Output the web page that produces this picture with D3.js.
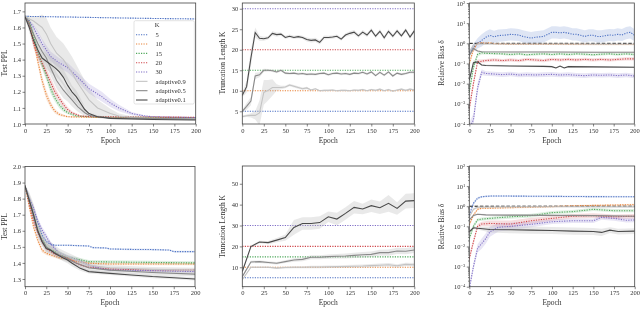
<!DOCTYPE html>
<html>
<head>
<meta charset="utf-8">
<script src="https://cdn.jsdelivr.net/npm/d3@7"></script>
<style>
body { margin: 0; background: #fff; }
svg { will-change: transform; }
text { font-family: "Liberation Serif", "DejaVu Serif", serif; }
</style>
</head>
<body>
<div id="root"></div>
<script>
// ---- data ----
var epochTicks = [0, 25, 50, 75, 100, 125, 150, 175, 200]
var kLevels = [5, 10, 15, 20, 30]
var legendLabels = ["5", "10", "15", "20", "30", "adaptive0.9", "adaptive0.5", "adaptive0.1"]

// top-left: test PPL, [epoch, mean, halfwidth]
var pplTopK5 = [[0,1.669,0.002],[50,1.665,0.003],[100,1.66,0.003],[150,1.656,0.003],[200,1.653,0.003]]
var pplTopK10 = [[0,1.667,0.005],[5,1.63,0.02],[10,1.52,0.03],[15,1.39,0.03],[20,1.27,0.03],[25,1.18,0.03],[30,1.12,0.02],[35,1.08,0.015],[40,1.06,0.01],[50,1.045,0.005],[75,1.042,0.003],[100,1.04,0.003],[200,1.04,0.003]]
var pplTopK15 = [[0,1.667,0.005],[5,1.64,0.02],[10,1.55,0.03],[15,1.45,0.03],[20,1.37,0.03],[25,1.30,0.03],[30,1.22,0.03],[35,1.16,0.02],[40,1.12,0.02],[45,1.09,0.015],[50,1.07,0.01],[60,1.05,0.005],[75,1.045,0.003],[100,1.042,0.003],[200,1.04,0.003]]
var pplTopK20 = [[0,1.667,0.005],[5,1.62,0.02],[10,1.5,0.03],[15,1.43,0.03],[20,1.38,0.03],[25,1.32,0.03],[30,1.26,0.03],[35,1.2,0.03],[40,1.16,0.02],[45,1.12,0.02],[50,1.09,0.015],[55,1.07,0.01],[65,1.05,0.005],[80,1.045,0.003],[200,1.042,0.003]]
var pplTopK30 = [[0,1.667,0.005],[5,1.64,0.01],[10,1.6,0.02],[15,1.55,0.03],[20,1.5,0.03],[25,1.46,0.03],[30,1.42,0.03],[40,1.38,0.03],[50,1.35,0.03],[60,1.3,0.03],[75,1.22,0.03],[90,1.17,0.03],[100,1.13,0.025],[110,1.1,0.02],[125,1.065,0.01],[140,1.05,0.005],[150,1.045,0.003],[175,1.042,0.003],[200,1.04,0.003]]
var pplTopA09 = [[0,1.667,0.01],[10,1.64,0.03],[15,1.62,0.05],[20,1.6,0.08],[25,1.56,0.1],[30,1.5,0.1],[37,1.44,0.1],[45,1.4,0.1],[50,1.36,0.1],[55,1.32,0.1],[60,1.27,0.1],[65,1.23,0.09],[75,1.15,0.07],[85,1.1,0.05],[100,1.065,0.03],[110,1.05,0.015],[125,1.04,0.008],[150,1.035,0.005],[200,1.03,0.004]]
var pplTopA05 = [[0,1.667,0.01],[5,1.62,0.03],[10,1.56,0.04],[15,1.5,0.05],[20,1.45,0.05],[25,1.41,0.05],[30,1.35,0.05],[37,1.27,0.05],[45,1.21,0.05],[50,1.18,0.04],[55,1.15,0.04],[62,1.106,0.03],[70,1.07,0.02],[75,1.054,0.015],[85,1.045,0.008],[100,1.038,0.005],[200,1.03,0.004]]
var pplTopA01 = [[0,1.667,0.01],[5,1.6,0.03],[10,1.52,0.04],[15,1.46,0.05],[20,1.41,0.05],[25,1.39,0.05],[30,1.37,0.05],[35,1.35,0.05],[40,1.325,0.05],[45,1.29,0.05],[50,1.24,0.05],[55,1.2,0.04],[60,1.17,0.04],[65,1.13,0.03],[70,1.09,0.02],[75,1.065,0.015],[85,1.045,0.008],[100,1.035,0.005],[150,1.028,0.004],[200,1.025,0.004]]

// top-middle: truncation length, sampled every 5 epochs
var epochs5 = d3.range(0, 201, 5)
var kTopA01 = [8.9,11,18,24.2,22.8,22.7,22.9,24,23.7,23.8,23,23.3,23,23.2,23,22.5,22.3,22.4,21.8,23,23,23.1,23.3,22.6,23.6,24,24.3,23.4,24.3,23.6,24.8,23.3,24.5,22.9,24.5,23.3,24.6,23.4,24.8,23.1,24.6]
var kTopA01Sd = [0.5,1.5,2,1.2,0.6,0.5,0.4,0.5,0.5,0.4,0.4,0.4,0.4,0.4,0.4,0.5,0.5,0.5,0.5,0.5,0.4,0.4,0.4,0.4,0.4,0.5,0.5,0.5,0.5,0.5,0.5,0.5,0.5,0.5,0.5,0.5,0.5,0.5,0.5,0.5,0.5]
var kTopA05 = [5,6.2,7.5,13.6,13.9,15,15,14.9,14.6,15,14.3,14.2,14.3,14.1,14.2,14,14.1,14,14.2,14.3,13.9,14.2,14.3,14.1,14.2,14,14.3,14.2,14.5,14.1,14.6,13.7,14.5,13.8,14.6,13.6,14.3,14,14.2,14.5,14.5]
var kTopA05Sd = [0.3,0.8,1,0.8,0.6,0.4,0.3,0.3,0.3,0.3,0.3,0.3,0.3,0.3,0.3,0.3,0.3,0.3,0.3,0.3,0.3,0.3,0.3,0.3,0.3,0.3,0.3,0.3,0.3,0.3,0.3,0.3,0.3,0.3,0.3,0.3,0.3,0.3,0.3,0.3,0.3]
var kTopA09 = [3.7,3.9,4,4,4.6,9.6,10.1,10.8,10.8,10.8,10.9,11.4,11.1,10.8,10.5,10.7,10.2,10.5,10,10.1,10.1,10.2,10,10.1,10.1,10,10.2,10.1,10.3,10,10.3,10.1,10.4,10,10.3,9.9,10.2,10.4,10.1,10.4,10.2]
var kTopA09Sd = [0.2,0.3,0.5,1,3,3,2.5,2,0.8,0.4,0.3,0.3,0.3,0.3,0.3,0.3,0.2,0.2,0.2,0.2,0.2,0.2,0.2,0.2,0.2,0.2,0.2,0.2,0.2,0.2,0.2,0.2,0.2,0.2,0.2,0.2,0.2,0.2,0.2,0.2,0.2]

// top-right: relative bias, [epoch, value, band factor]
var biasTopK5 = [[0,0.35,1.3],[5,0.63,1.5],[10,1.0,1.8],[15,1.4,2],[20,2.0,2],[25,2.5,2],[30,2.1,2],[35,2.4,2],[40,2.5,2],[45,2.6,2],[50,2.8,2],[55,2.7,2],[60,2.6,2],[65,2.2,2],[70,2.0,2],[75,1.8,2],[80,2.0,2],[85,2.1,2],[90,2.2,2],[95,2.8,2],[100,3.5,2],[105,3.5,2],[110,3.3,2],[115,3.5,2],[120,3.2,2],[125,2.8,2],[130,2.8,2],[135,2.5,2],[140,2.2,2],[145,2.5,2],[150,2.5,2],[155,2.2,2],[160,2.2,2],[165,2.4,2],[170,2.6,2],[175,2.5,2],[180,2.8,2],[185,2.6,2],[190,3.2,2],[195,3.5,2],[200,2.6,2]]
var biasTopK10 = [[0,0.1,1.5],[5,0.5,1.4],[10,1.0,1.15],[15,1.05,1.1],[20,1.0,1.1],[25,1.05,1.1],[30,0.95,1.1],[50,0.9,1.08],[100,0.9,1.08],[150,0.88,1.08],[200,0.88,1.08]]
var biasTopK15 = [[0,0.004,1.6],[5,0.063,1.5],[10,0.28,1.25],[15,0.34,1.2],[20,0.32,1.15],[30,0.31,1.15],[40,0.3,1.15],[50,0.28,1.15],[60,0.3,1.15],[70,0.27,1.15],[80,0.29,1.15],[90,0.3,1.15],[100,0.28,1.15],[110,0.3,1.15],[120,0.28,1.15],[130,0.3,1.15],[140,0.29,1.15],[150,0.27,1.15],[160,0.29,1.15],[170,0.3,1.15],[180,0.28,1.15],[190,0.3,1.15],[200,0.28,1.15]]
var biasTopK20 = [[0,0.0006,1.8],[5,0.01,1.6],[10,0.12,1.3],[15,0.13,1.2],[20,0.14,1.2],[30,0.15,1.2],[40,0.14,1.2],[50,0.15,1.2],[60,0.14,1.2],[70,0.16,1.2],[80,0.15,1.2],[90,0.14,1.2],[100,0.16,1.2],[110,0.15,1.2],[120,0.16,1.2],[130,0.15,1.2],[140,0.16,1.2],[150,0.15,1.2],[160,0.16,1.2],[170,0.15,1.2],[180,0.16,1.2],[190,0.17,1.2],[200,0.17,1.2]]
var biasTopK30 = [[0,0.00006,2],[5,0.00016,2],[10,0.006,1.8],[15,0.037,1.4],[20,0.032,1.3],[30,0.03,1.3],[40,0.028,1.3],[50,0.03,1.3],[60,0.027,1.3],[70,0.028,1.3],[80,0.027,1.3],[90,0.028,1.3],[100,0.029,1.3],[110,0.027,1.3],[120,0.028,1.3],[130,0.026,1.3],[140,0.025,1.3],[150,0.027,1.3],[160,0.026,1.3],[170,0.027,1.3],[180,0.025,1.3],[190,0.027,1.3],[200,0.024,1.3]]
var biasTopA09 = [[0,0.35,1.2],[5,0.8,1.2],[10,0.95,1.1],[20,0.93,1.05],[50,0.92,1.05],[100,0.92,1.05],[150,0.91,1.05],[200,0.9,1.05]]
var biasTopA05 = [[0,0.25,1.2],[5,0.55,1.2],[10,0.42,1.1],[15,0.38,1.08],[50,0.37,1.08],[100,0.37,1.08],[150,0.36,1.08],[200,0.36,1.08]]
var biasTopA01 = [[0,0.015,1.5],[5,0.11,1.3],[10,0.12,1.2],[15,0.085,1.1],[20,0.08,1.1],[50,0.075,1.1],[90,0.072,1.1],[100,0.07,1.1],[105,0.06,1.1],[110,0.075,1.1],[115,0.06,1.1],[120,0.07,1.1],[150,0.068,1.1],[200,0.065,1.1]]

// bottom-left: test PPL
var pplBotK5 = [[0,1.88,0.003],[5,1.8,0.01],[10,1.73,0.01],[15,1.65,0.01],[20,1.574,0.01],[25,1.533,0.008],[30,1.516,0.006],[35,1.51,0.005],[50,1.51,0.005],[75,1.505,0.005],[80,1.495,0.005],[95,1.493,0.005],[100,1.487,0.005],[125,1.484,0.005],[150,1.483,0.005],[170,1.48,0.005],[175,1.47,0.005],[200,1.47,0.005]]
var pplBotK10 = [[0,1.88,0.003],[5,1.75,0.02],[10,1.626,0.02],[15,1.543,0.02],[20,1.48,0.015],[25,1.46,0.01],[30,1.45,0.01],[40,1.433,0.01],[50,1.425,0.01],[60,1.41,0.008],[75,1.398,0.008],[100,1.393,0.008],[200,1.393,0.008]]
var pplBotK15 = [[0,1.88,0.003],[5,1.78,0.02],[10,1.69,0.02],[15,1.61,0.02],[20,1.553,0.015],[25,1.5,0.015],[30,1.48,0.012],[40,1.46,0.012],[50,1.435,0.012],[60,1.425,0.012],[75,1.408,0.01],[100,1.406,0.01],[150,1.403,0.01],[200,1.4,0.01]]
var pplBotK20 = [[0,1.88,0.003],[5,1.77,0.02],[10,1.66,0.02],[15,1.59,0.02],[20,1.533,0.015],[25,1.49,0.012],[35,1.455,0.01],[50,1.43,0.01],[60,1.4,0.01],[65,1.387,0.01],[75,1.373,0.008],[100,1.362,0.008],[150,1.356,0.008],[200,1.356,0.008]]
var pplBotK30 = [[0,1.88,0.003],[5,1.8,0.02],[10,1.74,0.02],[15,1.66,0.02],[20,1.605,0.02],[25,1.563,0.02],[30,1.52,0.015],[40,1.46,0.012],[50,1.44,0.01],[60,1.42,0.01],[75,1.387,0.008],[90,1.364,0.008],[100,1.356,0.008],[150,1.352,0.008],[200,1.346,0.008]]
var pplBotA09 = [[0,1.88,0.005],[5,1.8,0.04],[10,1.72,0.05],[15,1.63,0.05],[20,1.56,0.04],[25,1.52,0.03],[30,1.5,0.03],[40,1.46,0.03],[50,1.44,0.025],[60,1.42,0.02],[75,1.385,0.02],[100,1.37,0.015],[150,1.36,0.015],[200,1.355,0.015]]
var pplBotA05 = [[0,1.88,0.005],[5,1.79,0.04],[10,1.7,0.05],[15,1.6,0.04],[20,1.54,0.03],[25,1.5,0.03],[30,1.48,0.03],[40,1.45,0.025],[50,1.425,0.02],[60,1.4,0.02],[75,1.37,0.02],[100,1.355,0.015],[150,1.34,0.015],[200,1.33,0.015]]
var pplBotA01 = [[0,1.88,0.005],[5,1.79,0.03],[10,1.7,0.04],[15,1.6,0.04],[20,1.533,0.03],[25,1.49,0.025],[30,1.48,0.02],[35,1.46,0.02],[45,1.43,0.02],[50,1.418,0.02],[55,1.4,0.02],[65,1.366,0.015],[75,1.346,0.012],[100,1.335,0.01],[125,1.325,0.01],[150,1.315,0.01],[175,1.308,0.01],[200,1.3,0.01]]

// bottom-middle: truncation length, sampled every 10 epochs
var epochs10 = d3.range(0, 201, 10)
var kBotA01 = [8,19.9,22.1,21.8,23,24.2,29.1,31,31,31.4,34.2,33.1,35.8,38.7,37.9,39.5,38.5,40.6,38.2,41.7,41.9]
var kBotA01Sd = [1,0.6,0.6,0.8,1,1.5,3.5,3,3,3,2.5,3,3,3,2.5,3,3,4,3,3.5,3.5]
var kBotA05 = [5.5,12.5,12.7,12.3,11.9,12.7,13.5,13.8,14.8,14.8,15.1,15.3,15.4,15.7,16,16.2,17,17,17.8,17.7,18.3]
var kBotA05Sd = [0.5,0.6,0.6,0.6,0.6,0.7,0.8,0.9,1,1,1,1.1,1.2,1.2,1.3,1.3,1.4,1.5,1.5,1.5,1.5]
var kBotA09 = [4,10,10,10,9.6,9.9,10,10,10.1,10.1,10.2,10.3,10.4,10.5,10.6,10.8,11,11.2,10.7,11.4,11.2]
var kBotA09Sd = [0.3,0.4,0.4,0.4,0.4,0.5,0.5,0.5,0.6,0.6,0.6,0.6,0.7,0.7,0.7,0.8,0.8,0.8,0.8,0.8,0.8]

// bottom-right: relative bias
var biasBotK5 = [[0,0.36,1.2],[5,1.4,1.2],[10,2.5,1.15],[15,2.95,1.1],[20,3.1,1.1],[25,3.2,1.1],[50,3.2,1.1],[100,3.1,1.1],[150,3.0,1.1],[200,2.95,1.1]]
var biasBotK10 = [[0,0.12,1.3],[5,0.36,1.2],[10,0.7,1.15],[15,0.8,1.1],[25,0.8,1.1],[50,0.85,1.1],[75,0.9,1.1],[100,0.95,1.1],[125,1.05,1.1],[150,1.1,1.1],[175,1.15,1.1],[200,1.2,1.1]]
var biasBotK15 = [[0,0.025,1.4],[5,0.1,1.3],[10,0.21,1.2],[15,0.23,1.2],[25,0.25,1.2],[50,0.3,1.25],[75,0.34,1.25],[100,0.48,1.2],[125,0.54,1.2],[150,0.7,1.2],[175,0.6,1.2],[200,0.6,1.2]]
var biasBotK20 = [[0,0.0025,1.5],[5,0.017,1.4],[10,0.1,1.3],[15,0.13,1.3],[25,0.14,1.4],[50,0.13,1.5],[75,0.19,1.4],[100,0.25,1.3],[125,0.32,1.3],[150,0.34,1.3],[175,0.3,1.3],[200,0.32,1.3]]
var biasBotK30 = [[0,0.00008,1.5],[5,0.001,1.5],[10,0.008,1.6],[15,0.014,1.8],[20,0.025,1.8],[25,0.054,1.8],[35,0.09,1.6],[50,0.1,1.5],[75,0.126,1.4],[100,0.17,1.3],[125,0.19,1.3],[150,0.19,1.3],[160,0.28,1.3],[175,0.25,1.3],[190,0.2,1.3],[200,0.21,1.3]]
var biasBotA09 = [[0,0.3,1.2],[5,0.7,1.15],[10,0.9,1.1],[25,0.92,1.05],[100,0.95,1.05],[200,0.93,1.05]]
var biasBotA05 = [[0,0.21,1.2],[5,0.35,1.15],[10,0.4,1.1],[20,0.37,1.1],[50,0.36,1.1],[100,0.35,1.1],[150,0.34,1.1],[200,0.32,1.1]]
var biasBotA01 = [[0,0.054,1.2],[5,0.085,1.15],[10,0.08,1.15],[25,0.07,1.4],[50,0.068,1.5],[75,0.065,1.5],[100,0.062,1.5],[125,0.058,1.5],[150,0.055,1.5],[160,0.05,1.5],[170,0.065,1.4],[180,0.055,1.4],[200,0.058,1.4]]

// ---- styles ----
var kColors = {5: "#4a6fc3", 10: "#e8833a", 15: "#4fa85b", 20: "#cf474b", 30: "#7f6ec6"}
var adaptColors = {a09: "#c4c4c4", a05: "#8a8a8a", a01: "#4a4a4a"}

function zip(epochs, vals, sd) {
  return epochs.map(function(e, i) { return [e, vals[i], sd[i]] })
}

var svg = d3.select("#root").append("svg")
  .attr("width", 640).attr("height", 309)

var clipId = 0

function drawPanel(p) {
  var x = d3.scaleLinear().domain([0, 200]).range([p.l, p.r])
  var y = p.log
    ? d3.scaleLog().domain([1e-4, 1e2]).range([p.b, p.t])
    : d3.scaleLinear().domain(p.domain).range([p.b, p.t])

  var id = "clip" + (clipId++)
  svg.append("clipPath").attr("id", id)
    .append("rect").attr("x", p.l).attr("y", p.t)
    .attr("width", p.r - p.l).attr("height", p.b - p.t)

  var g = svg.append("g").attr("clip-path", "url(#" + id + ")")

  var line = d3.line().x(function(d){ return x(d[0]) }).y(function(d){ return y(d[1]) })
  var area = d3.area().x(function(d){ return x(d[0]) })
  if (p.log) {
    area.y0(function(d){ return y(d[1] / d[2]) }).y1(function(d){ return y(d[1] * d[2]) })
  } else {
    area.y0(function(d){ return y(d[1] - d[2]) }).y1(function(d){ return y(d[1] + d[2]) })
  }

  // horizontal K levels
  if (p.levels) {
    p.levels.forEach(function(k) {
      g.append("line")
        .attr("x1", p.l).attr("x2", p.r)
        .attr("y1", y(k)).attr("y2", y(k))
        .attr("stroke", kColors[k]).attr("stroke-width", 1.1)
        .attr("stroke-dasharray", "1.2,1.3")
    })
  }

  // bands
  p.series.forEach(function(s) {
    g.append("path").datum(s.data)
      .attr("d", area)
      .attr("fill", s.adaptive ? "#b0b0b0" : s.color)
      .attr("fill-opacity", s.adaptive ? 0.28 : 0.18)
  })

  if (p.log) {
    g.append("line")
      .attr("x1", p.l).attr("x2", p.r)
      .attr("y1", y(1)).attr("y2", y(1))
      .attr("stroke", "#111").attr("stroke-width", 1)
      .attr("stroke-dasharray", "3.5,1.8")
  }

  // lines
  p.series.forEach(function(s) {
    var path = g.append("path").datum(s.data)
      .attr("d", line)
      .attr("fill", "none")
      .attr("stroke", s.color)
      .attr("stroke-width", 1.1)
    if (!s.adaptive) path.attr("stroke-dasharray", "1.2,1.3")
  })

  // axes
  svg.append("g")
    .attr("transform", "translate(0," + p.b + ")")
    .call(d3.axisBottom(x).tickValues(epochTicks).tickSize(2.5).tickPadding(1.5))
  var ya = svg.append("g")
    .attr("transform", "translate(" + p.l + ",0)")
  if (p.log) {
    var exps = [-4, -3, -2, -1, 0, 1, 2]
    var minors = []
    exps.slice(0, -1).forEach(function(e) {
      for (var m = 2; m < 10; m++) minors.push(m * Math.pow(10, e))
    })
    ya.call(d3.axisLeft(y).tickValues(minors).tickSize(1.3).tickFormat(""))
    var ya2 = svg.append("g").attr("transform", "translate(" + p.l + ",0)")
      .call(d3.axisLeft(y).tickValues(exps.map(function(e){ return Math.pow(10, e) }))
        .tickSize(2.5).tickPadding(1.5).tickFormat(""))
    ya2.selectAll(".tick").each(function(d) {
      var t = d3.select(this).append("text")
        .attr("class", "logl")
        .attr("x", -4).attr("dy", "0.32em")
        .attr("text-anchor", "end")
        .attr("fill", "#333").style("font-size", "6.5px")
      var e = Math.round(Math.log10(d))
      t.append("tspan").text("10")
      t.append("tspan").attr("dy", "-0.45em").style("font-size", "4.6px")
        .text(e < 0 ? "\u2212" + (-e) : String(e))
    })
  } else {
    ya.call(d3.axisLeft(y).tickValues(p.ticks).tickSize(2.5).tickPadding(1.5)
      .tickFormat(p.fmt))
  }
  svg.selectAll(".domain").remove()
  svg.selectAll(".tick line").attr("stroke", "#333").attr("stroke-width", 0.6)
  svg.selectAll(".tick text:not(.logl)").attr("fill", "#333").style("font-size", "6.5px")
    .style("font-family", "'Liberation Serif', serif")

  // frame
  svg.append("rect")
    .attr("x", p.l).attr("y", p.t)
    .attr("width", p.r - p.l).attr("height", p.b - p.t)
    .attr("fill", "none").attr("stroke", "#444").attr("stroke-width", 0.8)

  // labels
  svg.append("text")
    .attr("x", (p.l + p.r) / 2).attr("y", p.b + 18.5)
    .attr("text-anchor", "middle").attr("fill", "#333")
    .style("font-size", "7.5px").text("Epoch")
  svg.append("text")
    .attr("transform", "translate(" + p.ylx + "," + p.yly + ") rotate(-90)")
    .attr("text-anchor", "middle").attr("dy", "0.35em").attr("fill", "#333")
    .style("font-size", "7.5px").text(p.ylabel)
}

function kSeries(list) {
  var keys = [5, 10, 15, 20, 30]
  var out = []
  list.slice(0, 5).forEach(function(d, i) {
    if (d) out.push({data: d, color: kColors[keys[i]], adaptive: false})
  })
  var ak = ["a09", "a05", "a01"]
  list.slice(5).forEach(function(d, i) {
    out.push({data: d, color: adaptColors[ak[i]], adaptive: true})
  })
  return out
}

var f1 = d3.format(".1f")

drawPanel({l: 25, r: 195.7, t: 3, b: 124, domain: [1.0, 1.752],
  ticks: [1.0, 1.1, 1.2, 1.3, 1.4, 1.5, 1.6, 1.7], fmt: f1,
  ylabel: "Test PPL", ylx: 4, yly: 63,
  series: kSeries([pplTopK5, pplTopK10, pplTopK15, pplTopK20, pplTopK30, pplTopA09, pplTopA05, pplTopA01])})

drawPanel({l: 242.3, r: 414.3, t: 3, b: 124, domain: [1.9, 31.4],
  ticks: [5, 10, 15, 20, 25, 30], fmt: d3.format("d"), levels: kLevels,
  ylabel: "Truncation Length K", ylx: 222, yly: 63,
  series: kSeries([null, null, null, null, null,
    zip(epochs5, kTopA09, kTopA09Sd), zip(epochs5, kTopA05, kTopA05Sd), zip(epochs5, kTopA01, kTopA01Sd)])})

drawPanel({l: 469.3, r: 634.3, t: 3, b: 124, log: true,
  ylabel: "Relative Bias \u03b4", ylx: 441.5, yly: 63,
  series: kSeries([biasTopK5, biasTopK10, biasTopK15, biasTopK20, biasTopK30, biasTopA09, biasTopA05, biasTopA01])})

drawPanel({l: 25, r: 195, t: 166.5, b: 286.7, domain: [1.252, 2.0],
  ticks: [1.3, 1.4, 1.5, 1.6, 1.7, 1.8, 1.9, 2.0], fmt: f1,
  ylabel: "Test PPL", ylx: 4, yly: 226.5,
  series: kSeries([pplBotK5, pplBotK10, pplBotK15, pplBotK20, pplBotK30, pplBotA09, pplBotA05, pplBotA01])})

drawPanel({l: 242.3, r: 414.3, t: 166, b: 286.7, domain: [0.7, 58.5],
  ticks: [10, 20, 30, 40, 50], fmt: d3.format("d"), levels: kLevels,
  ylabel: "Truncation Length K", ylx: 222, yly: 226.5,
  series: kSeries([null, null, null, null, null,
    zip(epochs10, kBotA09, kBotA09Sd), zip(epochs10, kBotA05, kBotA05Sd), zip(epochs10, kBotA01, kBotA01Sd)])})

drawPanel({l: 469.3, r: 634.7, t: 166, b: 286.7, log: true,
  ylabel: "Relative Bias \u03b4", ylx: 441.5, yly: 226.5,
  series: kSeries([biasBotK5, biasBotK10, biasBotK15, biasBotK20, biasBotK30, biasBotA09, biasBotA05, biasBotA01])})

// legend (top-left panel)
var lg = svg.append("g")
lg.append("rect").attr("x", 134).attr("y", 20.7).attr("width", 60.3).attr("height", 83.3)
  .attr("rx", 1.5).attr("fill", "#fff").attr("fill-opacity", 0.85)
  .attr("stroke", "#d0d0d0").attr("stroke-width", 0.6)
lg.append("text").attr("x", 157).attr("y", 25).attr("dy", "0.35em")
  .attr("text-anchor", "middle").attr("fill", "#333").style("font-size", "6.5px").text("K")
var legendColors = [kColors[5], kColors[10], kColors[15], kColors[20], kColors[30],
  adaptColors.a09, adaptColors.a05, adaptColors.a01]
legendLabels.forEach(function(lab, i) {
  var yy = 34.7 + i * 9.33
  var ln = lg.append("line").attr("x1", 136).attr("x2", 147.5)
    .attr("y1", yy).attr("y2", yy)
    .attr("stroke", legendColors[i]).attr("stroke-width", 1.1)
  if (i < 5) ln.attr("stroke-dasharray", "1.2,1.3")
  lg.append("text").attr("x", 155.5).attr("y", yy).attr("dy", "0.35em")
    .attr("fill", "#333").style("font-size", "6.5px").text(lab)
})
</script>
</body>
</html>
